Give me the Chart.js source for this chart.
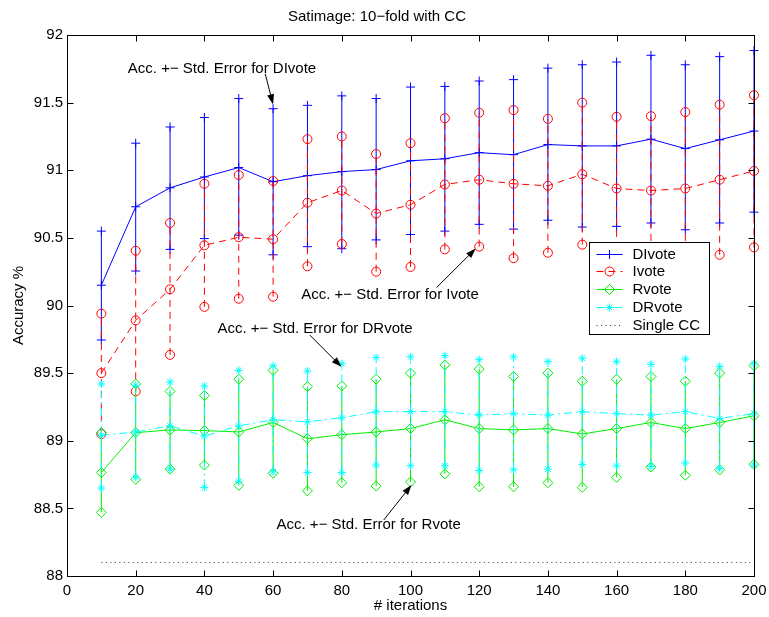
<!DOCTYPE html>
<html>
<head>
<meta charset="utf-8">
<script src="https://cdn.jsdelivr.net/npm/chart.js"></script>
<style>
  html, body { margin: 0; padding: 0; background: #fff; }
  #wrap { width: 769px; height: 617px; }
</style>
</head>
<body>
<div id="wrap"><canvas id="chart" width="769" height="617"></canvas></div>
<script>
// values
const iterations = [10, 20, 30, 40, 50, 60, 70, 80, 90, 100, 110, 120, 130, 140, 150, 160, 170, 180, 190, 200];

const dIvoteMean  = [90.15, 90.73, 90.87, 90.95, 91.02, 90.915, 90.96, 90.99, 91.005, 91.07, 91.085, 91.13, 91.115, 91.19, 91.18, 91.18, 91.23, 91.16, 91.225, 91.29];
const dIvoteUpper = [90.55, 91.2, 91.32, 91.39, 91.53, 91.455, 91.48, 91.55, 91.53, 91.615, 91.62, 91.66, 91.67, 91.755, 91.78, 91.8, 91.85, 91.78, 91.84, 91.885];
const dIvoteLower = [89.745, 90.255, 90.415, 90.495, 90.52, 90.375, 90.435, 90.42, 90.485, 90.525, 90.55, 90.6, 90.565, 90.63, 90.58, 90.585, 90.61, 90.56, 90.61, 90.69];

const iVoteMean  = [89.5, 89.89, 90.12, 90.445, 90.505, 90.49, 90.76, 90.85, 90.68, 90.745, 90.895, 90.93, 90.9, 90.885, 90.97, 90.865, 90.85, 90.865, 90.93, 90.995];
const iVoteUpper = [89.94, 90.405, 90.61, 90.9, 90.965, 90.92, 91.23, 91.25, 91.12, 91.2, 91.385, 91.425, 91.445, 91.38, 91.5, 91.395, 91.4, 91.43, 91.485, 91.555];
const iVoteLower = [89.05, 89.365, 89.635, 89.99, 90.05, 90.065, 90.29, 90.455, 90.25, 90.285, 90.415, 90.435, 90.35, 90.39, 90.45, 90.33, 90.3, 90.3, 90.375, 90.43];

const rVoteMean  = [88.765, 89.06, 89.08, 89.075, 89.065, 89.135, 89.015, 89.045, 89.065, 89.09, 89.155, 89.09, 89.08, 89.09, 89.05, 89.09, 89.135, 89.09, 89.135, 89.185];
const rVoteUpper = [89.06, 89.42, 89.365, 89.335, 89.455, 89.52, 89.4, 89.405, 89.455, 89.5, 89.56, 89.53, 89.475, 89.5, 89.44, 89.455, 89.475, 89.44, 89.5, 89.555];
const rVoteLower = [88.47, 88.715, 88.79, 88.82, 88.67, 88.76, 88.63, 88.69, 88.665, 88.695, 88.755, 88.66, 88.66, 88.69, 88.655, 88.73, 88.805, 88.745, 88.785, 88.825];

const dRvoteMean  = [89.04, 89.065, 89.11, 89.035, 89.11, 89.155, 89.14, 89.17, 89.215, 89.215, 89.215, 89.19, 89.2, 89.19, 89.215, 89.2, 89.19, 89.215, 89.165, 89.2];
const dRvoteUpper = [89.42, 89.41, 89.435, 89.405, 89.52, 89.555, 89.515, 89.57, 89.615, 89.62, 89.63, 89.6, 89.62, 89.585, 89.61, 89.585, 89.565, 89.605, 89.55, 89.57];
const dRvoteLower = [88.65, 88.73, 88.79, 88.655, 88.7, 88.77, 88.765, 88.765, 88.82, 88.815, 88.815, 88.78, 88.785, 88.79, 88.825, 88.815, 88.81, 88.835, 88.795, 88.82];

const singleCC = [88.1, 88.1, 88.1, 88.1, 88.1, 88.1, 88.1, 88.1, 88.1, 88.1, 88.1, 88.1, 88.1, 88.1, 88.1, 88.1, 88.1, 88.1, 88.1, 88.1];

const seriesLabels = ['DIvote', 'Ivote', 'Rvote', 'DRvote', 'Single CC'];

// text notes with arrows (data units)
const annotationTexts = ['Acc. +\u2212 Std. Error for DIvote', 'Acc. +\u2212 Std. Error for Ivote', 'Acc. +\u2212 Std. Error for DRvote', 'Acc. +\u2212 Std. Error for Rvote'];
const annotationAt = [[17.7, 91.75], [68.2, 90.08], [43.8, 89.83], [61.0, 88.377]];
const arrowFrom = [[57.7, 91.713], [107.6, 90.133], [70.7, 89.781], [92.2, 88.414]];
const arrowTo = [[60.0, 91.487], [119.0, 90.421], [79.9, 89.547], [100.3, 88.673]];

const FONT = '"Liberation Sans", Arial, Helvetica, sans-serif';

const styles = [
    { color: '#0000ff', dash: [], marker: 'cross', radius: 4.5 },
    { color: '#ff0000', dash: [7, 5], marker: 'circle', radius: 4.5 },
    { color: '#00ee00', dash: [], marker: 'rectRot', radius: 5 },
    { color: '#00ffff', dash: [8, 4, 2, 4], marker: 'star', radius: 4 }
];
const singleStyle = { color: '#333333', dash: [1, 3.5] };

function meanPoints(vals) {
    return iterations.map((x, i) => ({ x: x, y: vals[i] }));
}

// each error bar: lower end, upper end, then a gap
function errorPoints(lo, hi) {
    const pts = [];
    iterations.forEach((x, i) => {
        pts.push({ x: x, y: lo[i] }, { x: x, y: hi[i] }, { x: x, y: null });
    });
    return pts;
}

const means = [dIvoteMean, iVoteMean, rVoteMean, dRvoteMean];
const uppers = [dIvoteUpper, iVoteUpper, rVoteUpper, dRvoteUpper];
const lowers = [dIvoteLower, iVoteLower, rVoteLower, dRvoteLower];

const datasets = [];
styles.forEach((s, k) => {
    const common = {
        borderColor: s.color,
        borderWidth: 1,
        borderDash: s.dash,
        pointStyle: s.marker,
        pointRadius: s.radius,
        pointBorderColor: s.color,
        pointBackgroundColor: 'rgba(0,0,0,0)',
        pointBorderWidth: 1,
        showLine: true,
        spanGaps: false,
        tension: 0,
        clip: false,
        order: 10 - k * 2
    };
    datasets.push(Object.assign({ label: seriesLabels[k] + ' err', data: errorPoints(lowers[k], uppers[k]) }, common));
    datasets.push(Object.assign({ label: seriesLabels[k], data: meanPoints(means[k]) }, common, { order: 9 - k * 2 }));
});
datasets.push({
    label: seriesLabels[4],
    data: meanPoints(singleCC),
    borderColor: singleStyle.color,
    borderWidth: 1,
    borderDash: singleStyle.dash,
    pointRadius: 0,
    showLine: true,
    clip: false,
    order: 0
});

function marker(ctx, style, radius, x, y, color) {
    ctx.save();
    ctx.strokeStyle = color;
    ctx.fillStyle = 'rgba(0,0,0,0)';
    ctx.lineWidth = 1;
    ctx.setLineDash([]);
    if (Chart.helpers && Chart.helpers.drawPoint) {
        Chart.helpers.drawPoint(ctx, { pointStyle: style, radius: radius, rotation: 0, borderWidth: 1 }, x, y);
    } else {
        ctx.beginPath();
        ctx.arc(x, y, radius, 0, Math.PI * 2);
        ctx.stroke();
    }
    ctx.restore();
}

function arrow(ctx, x1, y1, x2, y2) {
    const a = Math.atan2(y2 - y1, x2 - x1);
    const len = 10, hw = 3.5;
    ctx.beginPath();
    ctx.moveTo(x1, y1);
    ctx.lineTo(x2 - Math.cos(a) * len * 0.8, y2 - Math.sin(a) * len * 0.8);
    ctx.stroke();
    ctx.beginPath();
    ctx.moveTo(x2, y2);
    ctx.lineTo(x2 - Math.cos(a) * len - Math.sin(a) * hw, y2 - Math.sin(a) * len + Math.cos(a) * hw);
    ctx.lineTo(x2 - Math.cos(a) * len + Math.sin(a) * hw, y2 - Math.sin(a) * len - Math.cos(a) * hw);
    ctx.closePath();
    ctx.fill();
}

const matlabAxes = {
    id: 'matlabAxes',
    afterDatasetsDraw(chart) {
        const ctx = chart.ctx;
        const area = chart.chartArea;
        const xs = chart.scales.x, ys = chart.scales.y;
        const L = Math.round(area.left) + 0.5, R = Math.round(area.right) + 0.5;
        const T = Math.round(area.top) + 0.5, B = Math.round(area.bottom) + 0.5;

        ctx.save();
        ctx.strokeStyle = '#000';
        ctx.lineWidth = 1;
        ctx.setLineDash([]);
        ctx.strokeRect(L, T, R - L, B - T);
        // inward ticks on all four sides
        ctx.beginPath();
        xs.ticks.forEach(t => {
            const px = Math.round(xs.getPixelForValue(t.value)) + 0.5;
            ctx.moveTo(px, B); ctx.lineTo(px, B - 6);
            ctx.moveTo(px, T); ctx.lineTo(px, T + 6);
        });
        ys.ticks.forEach(t => {
            const py = Math.round(ys.getPixelForValue(t.value)) + 0.5;
            ctx.moveTo(L, py); ctx.lineTo(L + 6, py);
            ctx.moveTo(R, py); ctx.lineTo(R - 6, py);
        });
        ctx.stroke();

        // notes
        ctx.fillStyle = '#000';
        ctx.font = '15px ' + FONT;
        ctx.textAlign = 'left';
        ctx.textBaseline = 'middle';
        annotationTexts.forEach((txt, i) => {
            ctx.fillText(txt, xs.getPixelForValue(annotationAt[i][0]), ys.getPixelForValue(annotationAt[i][1]));
            arrow(ctx,
                xs.getPixelForValue(arrowFrom[i][0]), ys.getPixelForValue(arrowFrom[i][1]),
                xs.getPixelForValue(arrowTo[i][0]), ys.getPixelForValue(arrowTo[i][1]));
        });

        // legend box
        const bx = 589.5, by = 242.5, bw = 120, bh = 92;
        ctx.fillStyle = '#fff';
        ctx.fillRect(bx, by, bw, bh);
        ctx.strokeStyle = '#000';
        ctx.strokeRect(bx, by, bw, bh);
        const rowH = 17.8;
        seriesLabels.forEach((lab, i) => {
            const y = by + 11 + i * rowH;
            const s = i < 4 ? styles[i] : singleStyle;
            ctx.save();
            ctx.strokeStyle = s.color;
            ctx.setLineDash(s.dash);
            ctx.beginPath();
            ctx.moveTo(bx + 7, Math.round(y) + 0.5);
            ctx.lineTo(bx + 33, Math.round(y) + 0.5);
            ctx.stroke();
            ctx.restore();
            if (i < 4) marker(ctx, s.marker, s.radius, bx + 20, Math.round(y) + 0.5, s.color);
            ctx.fillStyle = '#000';
            ctx.fillText(lab, bx + 43, y + 1);
        });
        ctx.restore();
    }
};

const ctx = document.getElementById('chart').getContext('2d');

new Chart(ctx, {
    type: 'scatter',
    data: { datasets: datasets },
    options: {
        responsive: false,
        animation: false,
        events: [],
        layout: { padding: { left: 0, right: 15, top: 0, bottom: 0 } },
        plugins: {
            legend: { display: false },
            tooltip: { enabled: false },
            title: {
                display: true,
                text: 'Satimage: 10\u2212fold with CC',
                color: '#000',
                font: { family: FONT, size: 15, weight: 'normal' },
                padding: { top: 8, bottom: 9 }
            }
        },
        scales: {
            x: {
                type: 'linear',
                position: 'bottom',
                min: 0,
                max: 200,
                grid: { display: false, drawTicks: false },
                border: { display: false },
                ticks: {
                    stepSize: 20,
                    autoSkip: false,
                    maxRotation: 0,
                    padding: 6,
                    color: '#000',
                    font: { family: FONT, size: 15 }
                },
                title: {
                    display: true,
                    text: '# iterations',
                    color: '#000',
                    font: { family: FONT, size: 15 },
                    padding: { top: 0, bottom: 2 }
                },
                afterFit: scale => {
                    scale.height = 41;
                    scale.paddingLeft = 0;
                    scale.paddingRight = 0;
                }
            },
            y: {
                type: 'linear',
                min: 88,
                max: 92,
                grid: { display: false, drawTicks: false },
                border: { display: false },
                ticks: {
                    stepSize: 0.5,
                    padding: 4,
                    color: '#000',
                    font: { family: FONT, size: 15 },
                    callback: v => String(Number(v.toFixed(1)))
                },
                title: {
                    display: true,
                    text: 'Accuracy %',
                    color: '#000',
                    font: { family: FONT, size: 15 },
                    padding: { top: 10, bottom: 0 }
                },
                afterFit: scale => {
                    scale.width = 67;
                    scale.paddingTop = 0;
                    scale.paddingBottom = 0;
                }
            }
        }
    },
    plugins: [matlabAxes]
});
</script>
</body>
</html>
